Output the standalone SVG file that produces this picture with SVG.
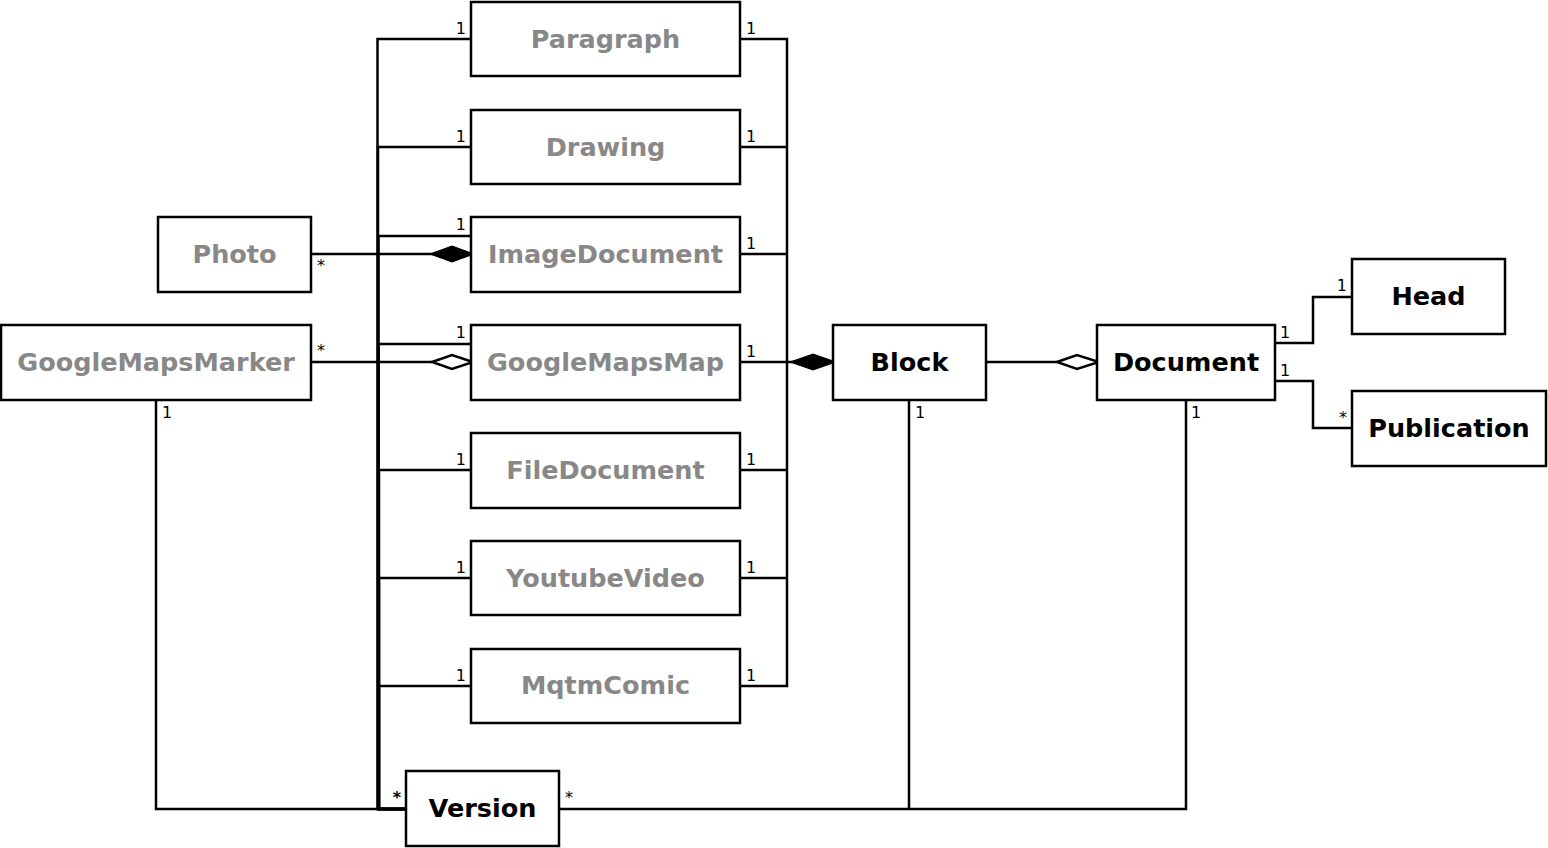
<svg xmlns="http://www.w3.org/2000/svg" width="1548" height="848" viewBox="0 0 1548 848">
<style>
.box{fill:#fff;stroke:#000;stroke-width:2.5}
.t{font-family:"DejaVu Sans",sans-serif;font-weight:bold;font-size:25.5px;text-anchor:middle}
.g{fill:#888}
.k{fill:#000}
.ln{fill:none;stroke:#000;stroke-width:2.5}
.lb{font-family:"DejaVu Sans",sans-serif;font-size:16px;fill:#000}
.e{text-anchor:end}
</style>
<rect width="1548" height="848" fill="#fff"/>
<g id="connectors">
  <path class="ln" d="M471,39 H377.5 V809 H406"/>
  <path class="ln" d="M471,147 H378 V809 H406"/>
  <path class="ln" d="M471,236 H378.5 V809 H406"/>
  <path class="ln" d="M471,344 H378.5 V809 H406"/>
  <path class="ln" d="M471,470 H379 V809 H406"/>
  <path class="ln" d="M471,578 H379 V809 H406"/>
  <path class="ln" d="M471,686 H379 V809 H406"/>
  <path class="ln" d="M156,400 V809 H406"/>
  <path class="ln" d="M740,39 H787 V686 H740"/>
  <path class="ln" d="M740,147 H787"/>
  <path class="ln" d="M740,254 H787"/>
  <path class="ln" d="M740,470 H787"/>
  <path class="ln" d="M740,578 H787"/>
  <path class="ln" d="M740,362 H833"/>
  <path fill="#000" stroke="#000" stroke-width="1" d="M790,362 L813,354 L836,362 L813,370 Z"/>
  <path class="ln" d="M311,254 H471"/>
  <path fill="#000" stroke="#000" stroke-width="1" d="M430,254 L452,246 L474,254 L452,262 Z"/>
  <path class="ln" d="M311,362 H432"/>
  <path fill="#fff" stroke="#000" stroke-width="2.5" d="M432,362 L452,355 L473,362 L452,369 Z"/>
  <path class="ln" d="M986,362 H1057"/>
  <path fill="#fff" stroke="#000" stroke-width="2.5" d="M1057,362 L1077,355 L1099,362 L1077,369 Z"/>
  <path class="ln" d="M1275,343 H1313 V297 H1352"/>
  <path class="ln" d="M1275,381 H1313 V428 H1352"/>
  <path class="ln" d="M909,400 V809"/>
  <path class="ln" d="M1186,400 V809 H559"/>
</g>
<g id="labels">
  <text class="lb e" x="466" y="34">1</text>
  <text class="lb e" x="466" y="142">1</text>
  <text class="lb e" x="466" y="230">1</text>
  <text class="lb e" x="466" y="338">1</text>
  <text class="lb e" x="466" y="465">1</text>
  <text class="lb e" x="466" y="573">1</text>
  <text class="lb e" x="466" y="681">1</text>
  <text class="lb" x="746" y="34">1</text>
  <text class="lb" x="746" y="142">1</text>
  <text class="lb" x="746" y="249">1</text>
  <text class="lb" x="746" y="357">1</text>
  <text class="lb" x="746" y="465">1</text>
  <text class="lb" x="746" y="573">1</text>
  <text class="lb" x="746" y="681">1</text>
  <text class="lb" x="317" y="271">*</text>
  <text class="lb" x="317" y="356">*</text>
  <text class="lb" x="162" y="418">1</text>
  <text class="lb" x="915" y="418">1</text>
  <text class="lb" x="1191" y="418">1</text>
  <text class="lb" x="1280" y="338">1</text>
  <text class="lb" x="1280" y="376">1</text>
  <text class="lb e" x="1347" y="291">1</text>
  <text class="lb e" x="1347" y="423">*</text>
  <text class="lb e" x="401" y="803" font-weight="bold">*</text>
  <text class="lb" x="565" y="803">*</text>
</g>
<g id="Paragraph"><rect class="box" x="471" y="2" width="269" height="74"/><text class="t g" x="605.5" y="48">Paragraph</text></g>
<g id="Drawing"><rect class="box" x="471" y="110" width="269" height="74"/><text class="t g" x="605.5" y="156">Drawing</text></g>
<g id="ImageDocument"><rect class="box" x="471" y="217" width="269" height="75"/><text class="t g" x="605.5" y="263">ImageDocument</text></g>
<g id="GoogleMapsMap"><rect class="box" x="471" y="325" width="269" height="75"/><text class="t g" x="605.5" y="371">GoogleMapsMap</text></g>
<g id="FileDocument"><rect class="box" x="471" y="433" width="269" height="75"/><text class="t g" x="605.5" y="479">FileDocument</text></g>
<g id="YoutubeVideo"><rect class="box" x="471" y="541" width="269" height="74"/><text class="t g" x="605.5" y="587">YoutubeVideo</text></g>
<g id="MqtmComic"><rect class="box" x="471" y="649" width="269" height="74"/><text class="t g" x="605.5" y="694">MqtmComic</text></g>
<g id="Photo"><rect class="box" x="158" y="217" width="153" height="75"/><text class="t g" x="234.5" y="263">Photo</text></g>
<g id="GoogleMapsMarker"><rect class="box" x="1" y="325" width="310" height="75"/><text class="t g" x="156" y="371">GoogleMapsMarker</text></g>
<g id="Block"><rect class="box" x="833" y="325" width="153" height="75"/><text class="t k" x="909.5" y="371">Block</text></g>
<g id="Document"><rect class="box" x="1097" y="325" width="178" height="75"/><text class="t k" x="1186" y="371">Document</text></g>
<g id="Head"><rect class="box" x="1352" y="259" width="153" height="75"/><text class="t k" x="1428.5" y="305">Head</text></g>
<g id="Publication"><rect class="box" x="1352" y="391" width="194" height="75"/><text class="t k" x="1449" y="437">Publication</text></g>
<g id="Version"><rect class="box" x="406" y="771" width="153" height="75"/><text class="t k" x="482.5" y="817">Version</text></g>
</svg>
